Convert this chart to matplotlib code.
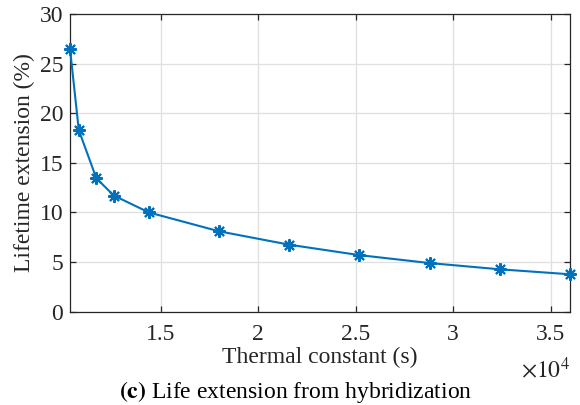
import numpy as np
import matplotlib
matplotlib.use('Agg')
import matplotlib.pyplot as plt
from matplotlib.ticker import FuncFormatter, MultipleLocator

# data
thermal_constant = [10350, 10800, 11700, 12600, 14400, 18000, 21600, 25200, 28800, 32400, 36000]
lifetime_ext = [26.5, 18.3, 13.45, 11.7, 10.0, 8.1, 6.75, 5.7, 4.9, 4.27, 3.77]
xticks = [15000, 20000, 25000, 30000, 35000]

plt.rcParams['font.family'] = ['Liberation Serif', 'DejaVu Serif']
plt.rcParams['mathtext.fontset'] = 'stix'

fig = plt.figure(figsize=(5.8, 4.05), dpi=100)
ax = fig.add_axes([0.1207, 0.2304, 0.8621, 0.735])

# matlab style asterisk marker (8 arms)
ax.plot(thermal_constant, lifetime_ext, color='#0072BD', lw=1.5,
        marker=(8, 2, 0), ms=9, mew=1.5, clip_on=False, zorder=3)

ax.set_xlim(thermal_constant[0], thermal_constant[-1])
ax.set_ylim(0, 30)
ax.set_xticks(xticks)
ax.yaxis.set_major_locator(MultipleLocator(5))
ax.xaxis.set_major_formatter(FuncFormatter(lambda v, p: '%g' % (v / 1e4)))

ax.grid(True, color='#dfdfdf', lw=0.9)
ax.set_axisbelow(True)
for s in ax.spines.values():
    s.set_color('#262626')
    s.set_linewidth(0.9)
ax.tick_params(direction='in', length=4, width=0.9, color='#262626',
               labelsize=17, labelcolor='#262626', top=True, right=True)
ax.tick_params(axis='x', pad=9)
ax.tick_params(axis='y', pad=5)

ax.set_ylabel('Lifetime extension (%)', fontsize=17, color='#262626', labelpad=3)
ax.set_xlabel('Thermal constant (s)', fontsize=17, color='#262626', labelpad=1)
ax.text(1.0, -0.15, r'$\times 10^{4}$', transform=ax.transAxes, ha='right', va='top',
        fontsize=17, color='#262626')

fig.text(0.51, 0.018, r'$\mathbf{(c)}$ Life extension from hybridization', fontsize=17,
         color='black', ha='center', va='baseline')

plt.savefig('out.png', dpi=100)
